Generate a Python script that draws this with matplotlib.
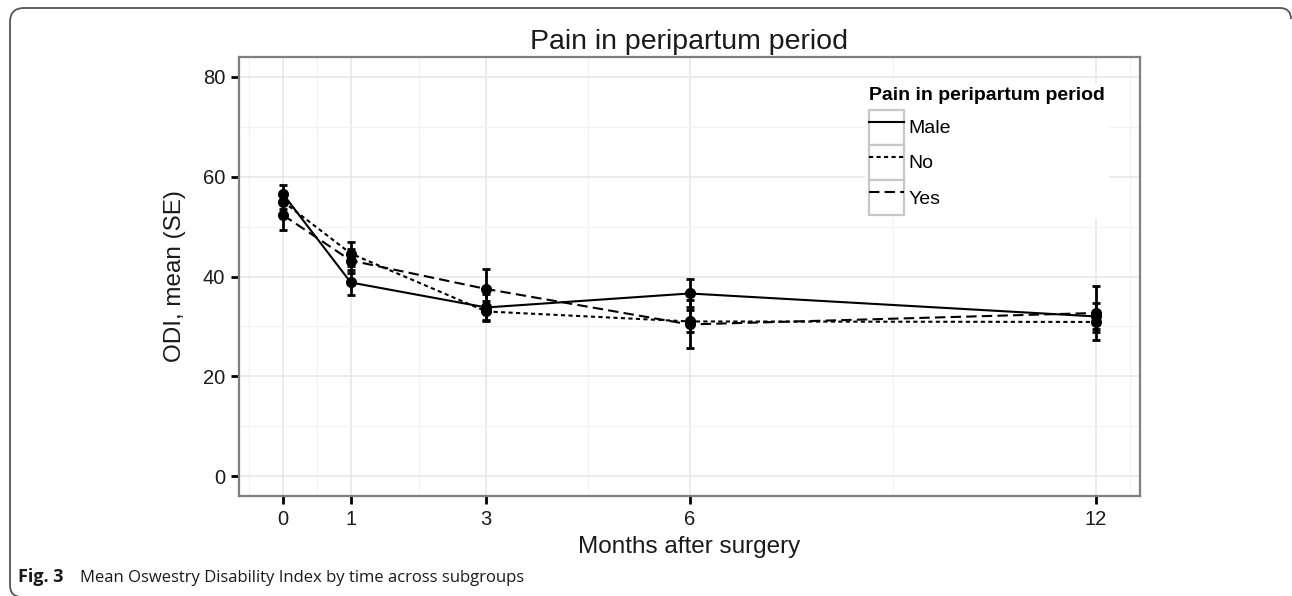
import matplotlib
matplotlib.use("Agg")
import matplotlib.pyplot as plt
from matplotlib.lines import Line2D
from matplotlib.patches import Rectangle, PathPatch
from matplotlib.path import Path
from matplotlib.legend_handler import HandlerLine2D

# ---- data ----
months = [0, 1, 3, 6, 12]
month_labels = ["0", "1", "3", "6", "12"]
groups = ["Male", "No", "Yes"]
male_mean = [56.5, 38.8, 33.8, 36.6, 32.0]
male_se = [1.8, 2.5, 2.6, 2.8, 2.6]
no_mean = [55.0, 44.6, 33.0, 31.0, 30.9]
no_se = [1.4, 2.4, 2.0, 2.2, 2.0]
yes_mean = [52.3, 43.2, 37.5, 30.4, 32.7]
yes_se = [3.0, 2.4, 4.1, 4.8, 5.4]
y_ticks = [0, 20, 40, 60, 80]
x_minor = [-0.5, 0.5, 2, 4.5, 9, 12.5]
y_minor = [10, 30, 50, 70]

W, H = 1292, 596
plt.rcParams['font.family'] = ['Liberation Sans', 'DejaVu Sans']
fig = plt.figure(figsize=(W / 100, H / 100), dpi=100)
ax = fig.add_axes([239 / W, 1 - 496 / H, (1140 - 239) / W, (496 - 57) / H])

styles = {"Male": "-", "No": (0, (2, 1.6)), "Yes": (0, (5, 2.5))}
series = {"Male": (male_mean, male_se), "No": (no_mean, no_se), "Yes": (yes_mean, yes_se)}

for g in groups:
    m, se = series[g]
    ax.errorbar(months, m, yerr=se, color="black", ls=styles[g], lw=1.5,
                marker="o", ms=7, capsize=3, capthick=2, elinewidth=2, zorder=3)

ax.set_xlim(-0.65, 12.65)
ax.set_ylim(-3.95, 83.95)
ax.set_xticks(months)
ax.set_xticklabels(month_labels)
ax.set_yticks(y_ticks)
ax.set_xticks(x_minor, minor=True)
ax.set_yticks(y_minor, minor=True)
ax.tick_params(which="minor", length=0)
ax.tick_params(which="major", length=6, width=2, color="black", labelsize=14.5,
               labelcolor="#1a1a1a", pad=4)
ax.tick_params(axis="y", pad=4)
ax.grid(which="major", color="#e6e6e6", lw=1.1, zorder=0)
ax.grid(which="minor", color="#f2f2f2", lw=0.9, zorder=0)
ax.set_axisbelow(True)
for s in ax.spines.values():
    s.set_color("#7f7f7f")
    s.set_linewidth(1.6)

ax.set_title("Pain in peripartum period", fontsize=20.5, color="#1a1a1a", pad=6)
ax.set_xlabel("Months after surgery", fontsize=17.5, color="#1a1a1a", labelpad=5)
ax.set_ylabel("ODI, mean (SE)", fontsize=17.5, color="#1a1a1a", labelpad=12)


class BoxedKey(HandlerLine2D):
    def create_artists(self, legend, orig_handle, xdescent, ydescent, width,
                       height, fontsize, trans):
        arts = super().create_artists(legend, orig_handle, xdescent, ydescent,
                                      width, height, fontsize, trans)
        rect = Rectangle((-xdescent, -ydescent), width, height, transform=trans,
                         facecolor="white", edgecolor="#c8c8c8", lw=1.6)
        return [rect] + list(arts)


handles = [Line2D([], [], color="black", ls=styles[g], lw=1.5) for g in groups]
leg = ax.legend(handles, groups, loc="upper left", bbox_to_anchor=(0.684, 0.962),
                title="Pain in peripartum period", fontsize=14,
                title_fontproperties={"weight": "bold", "size": 14},
                handlelength=1.8, handleheight=2.4, labelspacing=0.0,
                handletextpad=0.25, borderpad=0.2, frameon=True,
                alignment="left", handler_map={Line2D: BoxedKey()})
leg._legend_box.sep = 4
leg.get_frame().set_edgecolor("none")
leg.get_frame().set_facecolor("white")
leg.get_frame().set_alpha(1)
leg.get_frame().set_boxstyle("square", pad=0)

# outer rounded frame (top & left)
def P(x, y):
    return (x / W, 1 - y / H)

verts = [P(22, 597), P(10, 597), P(10, 585), P(10, 22), P(10, 8), P(24, 8),
         P(1280, 8), P(1291, 8), P(1291, 19)]
codes = [Path.MOVETO, Path.CURVE3, Path.CURVE3, Path.LINETO, Path.CURVE3,
         Path.CURVE3, Path.LINETO, Path.CURVE3, Path.CURVE3]
fig.patches.append(PathPatch(Path(verts, codes), transform=fig.transFigure,
                             fill=False, edgecolor="#555555", lw=1.3))

# caption
fig.text(18 / W, 1 - 582 / H, "Fig. 3", fontsize=13, fontweight="bold",
         family=["Open Sans", "DejaVu Sans"], color="#1a1a1a", va="baseline")
fig.text(80 / W, 1 - 582 / H, "Mean Oswestry Disability Index by time across subgroups",
         fontsize=12, family=["Open Sans", "DejaVu Sans"], color="#1a1a1a", va="baseline")

fig.savefig("out.png", dpi=100)
